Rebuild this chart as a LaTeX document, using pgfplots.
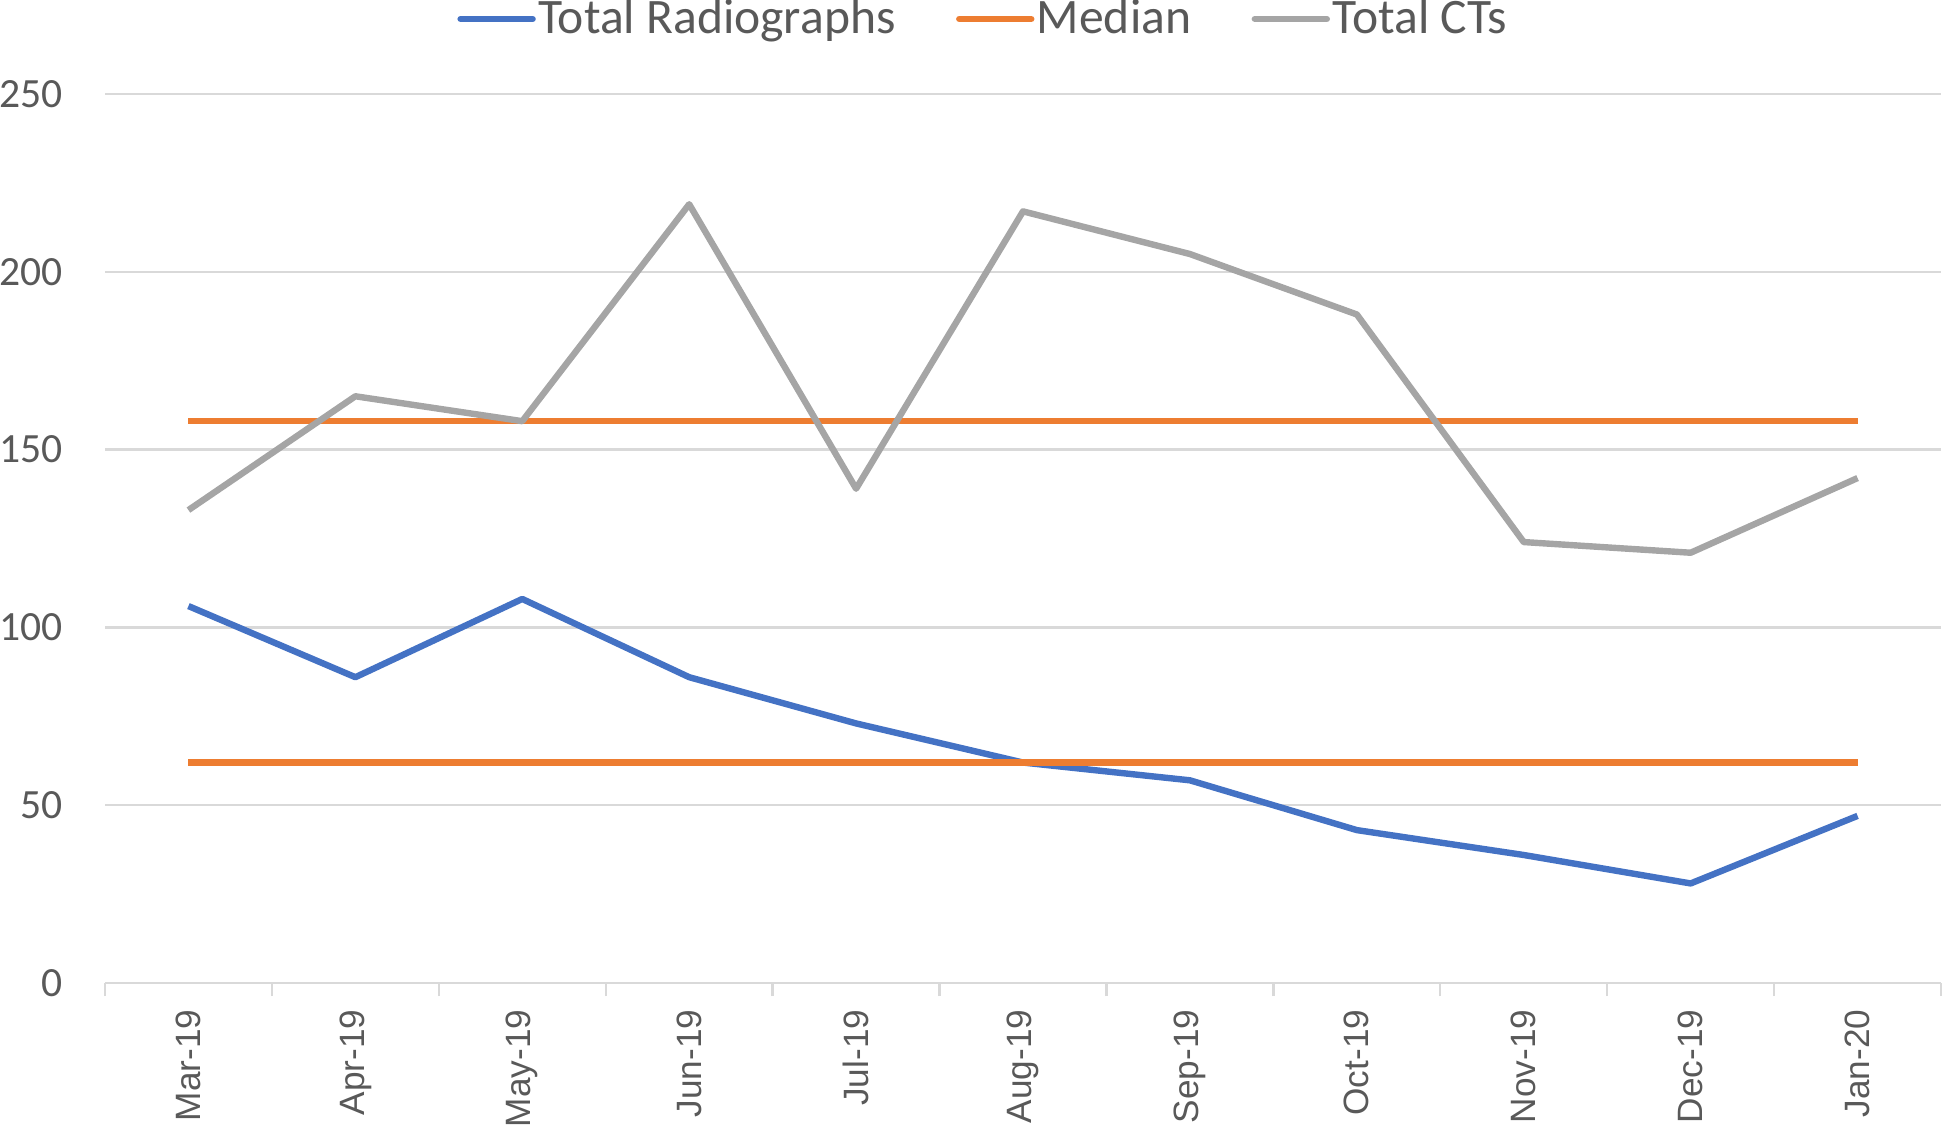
\documentclass[border=0pt]{standalone}
\usepackage{pgfplots}
\pgfplotsset{compat=1.18}
\usepackage{fontspec}
\setmainfont{Carlito}
\newfontfamily\xlab{Liberation Sans}
\definecolor{cblue}{HTML}{4472C4}
\definecolor{corange}{HTML}{ED7D31}
\definecolor{cgrey}{HTML}{A5A5A5}
\definecolor{ctext}{HTML}{595959}
\definecolor{cgrid}{HTML}{D9D9D9}
\begin{document}
\begin{tikzpicture}
\begin{axis}[
  scale only axis, width=459pt, height=222.25pt,
  xmin=-0.5, xmax=10.5, ymin=0, ymax=250,
  xtick={0,...,10},
  xticklabels={Mar-19,Apr-19,May-19,Jun-19,Jul-19,Aug-19,Sep-19,Oct-19,Nov-19,Dec-19,Jan-20},
  minor xtick={-0.5,0.5,...,10.5},
  ytick={0,50,...,250},
  ymajorgrids, major grid style={cgrid, line width=0.6pt},
  axis x line*=bottom, axis y line*=left,
  x axis line style={cgrid, line width=0.6pt, -},
  y axis line style={draw=none},
  major tick length=0pt, minor tick length=3.3pt,
  tick align=outside,
  xtick style={cgrid, line width=0.6pt}, ytick style={draw=none},
  /pgf/number format/assume math mode=true,
  yticklabel style={font=\fontsize{10.4}{12}\selectfont, text=ctext, inner sep=0pt, xshift=-10.4pt},
  xticklabel style={font=\xlab\fontsize{8.8}{10}\selectfont, text=ctext, rotate=90, anchor=east, inner sep=0pt},
  xticklabel shift=6.5pt,
  legend style={draw=none, fill=none, at={(0.4785,1.0844)}, anchor=center,
    font=\fontsize{12.4}{14}\selectfont, text=ctext, inner sep=0pt,
    nodes={inner xsep=0.6pt},
    /tikz/every even column/.append style={column sep=14.5pt}},
  legend columns=3,
  legend image code/.code={\draw[#1, line cap=round] (0pt,0pt) -- (18pt,0pt);},
  every axis plot/.append style={line width=1.6pt, line join=round},
]
\addplot[cblue] coordinates {(0,106) (1,86) (2,108) (3,86) (4,73) (5,62) (6,57) (7,43) (8,36) (9,28) (10,47)};
\addlegendentry{Total Radiographs}
\addplot[corange] coordinates {(0,158) (10,158)};
\addlegendentry{Median}
\addplot[cgrey] coordinates {(0,133) (1,165) (2,158) (3,219) (4,139) (5,217) (6,205) (7,188) (8,124) (9,121) (10,142)};
\addlegendentry{Total CTs}
\addplot[corange, forget plot] coordinates {(0,62) (10,62)};
\end{axis}
\pgfresetboundingbox
\useasboundingbox (-26.25pt,-35.75pt) rectangle (459.75pt,245.75pt);
\end{tikzpicture}
\end{document}
